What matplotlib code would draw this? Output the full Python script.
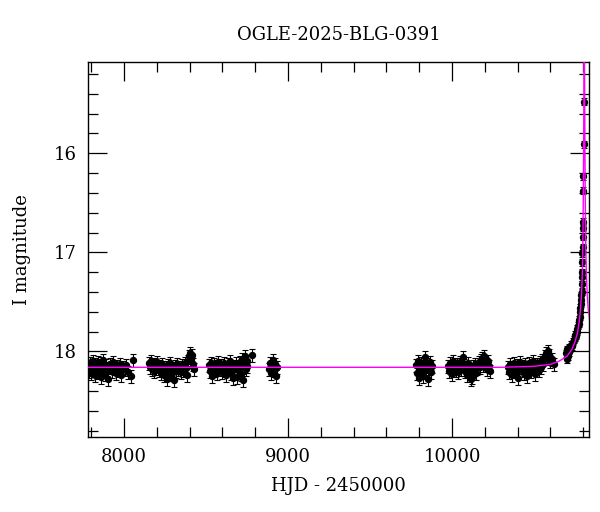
import matplotlib
matplotlib.use("Agg")
import matplotlib.pyplot as plt
from matplotlib.ticker import MultipleLocator

plt.rcParams['font.family'] = ['DejaVu Serif']

# observing seasons: HJD-2450000, I mag, error
t1 = [7781, 7785, 7790, 7794, 7799, 7803, 7808, 7812, 7817, 7822, 7826, 7831, 7836, 7841,
      7846, 7851, 7857, 7862, 7868, 7874, 7880, 7886, 7892, 7899, 7905, 7912, 7919, 7926,
      7933, 7941, 7949, 7957, 7966, 7975, 7984, 7994, 8004, 8015, 8027, 8040, 8052]
m1 = [18.15, 18.20, 18.12, 18.18, 18.22, 18.14, 18.17, 18.10, 18.19, 18.24, 18.13, 18.16,
      18.21, 18.11, 18.18, 18.15, 18.26, 18.12, 18.19, 18.09, 18.17, 18.23, 18.14, 18.18,
      18.28, 18.13, 18.16, 18.20, 18.11, 18.17, 18.22, 18.15, 18.19, 18.13, 18.24, 18.16,
      18.18, 18.14, 18.21, 18.25, 18.09]

t2 = [8152, 8158, 8164, 8170, 8176, 8183, 8190, 8197, 8204, 8211, 8218, 8225, 8232, 8239,
      8246, 8253, 8260, 8267, 8274, 8281, 8288, 8295, 8302, 8309, 8316, 8323, 8330, 8338,
      8346, 8354, 8362, 8370, 8378, 8386, 8393, 8399, 8404, 8409, 8414, 8419, 8424]
m2 = [18.12, 18.16, 18.10, 18.18, 18.14, 18.20, 18.13, 18.17, 18.11, 18.19, 18.15, 18.22,
      18.13, 18.18, 18.24, 18.16, 18.28, 18.14, 18.19, 18.12, 18.23, 18.17, 18.29, 18.15,
      18.20, 18.13, 18.18, 18.16, 18.21, 18.14, 18.19, 18.12, 18.17, 18.24, 18.10, 18.05,
      18.02, 18.08, 18.04, 18.13, 18.18]

t3 = [8516, 8522, 8528, 8534, 8540, 8547, 8554, 8561, 8568, 8575, 8582, 8589, 8596, 8603,
      8610, 8617, 8624, 8631, 8638, 8645, 8652, 8659, 8666, 8673, 8680, 8687, 8694, 8701,
      8707, 8713, 8719, 8725, 8731, 8737, 8742, 8747, 8752, 8782]
m3 = [18.14, 18.20, 18.12, 18.25, 18.17, 18.13, 18.19, 18.15, 18.22, 18.11, 18.18, 18.14,
      18.21, 18.16, 18.12, 18.19, 18.24, 18.13, 18.17, 18.10, 18.22, 18.15, 18.27, 18.18,
      18.12, 18.26, 18.16, 18.20, 18.11, 18.23, 18.08, 18.29, 18.14, 18.05, 18.18, 18.10,
      18.15, 18.04]

t4 = [8882, 8888, 8894, 8900, 8906, 8912, 8918, 8924, 8930]
m4 = [18.18, 18.12, 18.22, 18.15, 18.09, 18.19, 18.13, 18.25, 18.16]

t5 = [9779, 9785, 9791, 9797, 9803, 9809, 9815, 9821, 9827, 9833, 9839, 9845, 9851, 9857,
      9863, 9869, 9876]
m5 = [18.14, 18.22, 18.10, 18.27, 18.16, 18.12, 18.20, 18.25, 18.15, 18.06, 18.19, 18.13,
      18.28, 18.17, 18.11, 18.21, 18.15]

t6 = [9973, 9980, 9987, 9994, 10001, 10008, 10015, 10022, 10029, 10036, 10043, 10050,
      10057, 10064, 10071, 10078, 10085, 10092, 10099, 10106, 10113, 10120, 10127, 10134,
      10141, 10148, 10155, 10162, 10169, 10176, 10183, 10190, 10197, 10204, 10211, 10218,
      10225, 10233]
m6 = [18.15, 18.20, 18.12, 18.17, 18.23, 18.10, 18.16, 18.19, 18.13, 18.21, 18.15, 18.11,
      18.18, 18.06, 18.14, 18.20, 18.16, 18.24, 18.12, 18.19, 18.28, 18.26, 18.15, 18.18,
      18.13, 18.22, 18.17, 18.11, 18.16, 18.09, 18.07, 18.14, 18.05, 18.12, 18.18, 18.10,
      18.15, 18.20]

t7 = [10340, 10347, 10354, 10361, 10368, 10375, 10382, 10389, 10396, 10403, 10410, 10417,
      10424, 10431, 10438, 10445, 10452, 10459, 10466, 10473, 10480, 10487, 10494, 10501,
      10508, 10515, 10522, 10529, 10536, 10543, 10550, 10557, 10564, 10571, 10578, 10585,
      10592, 10600, 10610, 10620]
m7 = [18.16, 18.21, 18.13, 18.18, 18.24, 18.12, 18.17, 18.20, 18.14, 18.27, 18.16, 18.11,
      18.19, 18.15, 18.22, 18.13, 18.18, 18.25, 18.12, 18.16, 18.20, 18.14, 18.10, 18.17,
      18.23, 18.13, 18.15, 18.19, 18.11, 18.16, 18.09, 18.13, 18.05, 18.02, 18.07, 18.00,
      18.04, 18.10, 18.08, 18.13]

t8 = [10694, 10698, 10702, 10706, 10710, 10714, 10720, 10726, 10732, 10738, 10743, 10748,
      10752, 10756, 10760, 10764, 10768, 10771, 10774, 10777, 10780, 10782, 10784, 10786,
      10788, 10790, 10791, 10792, 10793, 10794, 10795, 10796, 10797, 10798, 10799, 10800,
      10801, 10802, 10803]
m8 = [18.02, 18.08, 17.98, 18.05, 17.96, 18.01, 17.97, 17.93, 17.95, 17.90, 17.88, 17.86,
      17.83, 17.84, 17.80, 17.77, 17.74, 17.72, 17.68, 17.65, 17.60, 17.56, 17.52, 17.48,
      17.43, 17.40, 17.32, 17.25, 17.20, 17.10, 17.01, 16.95, 16.84, 16.75, 16.69, 16.38,
      16.23, 15.91, 15.48]

seasons = [(t1, m1), (t2, m2), (t3, m3), (t4, m4), (t5, m5), (t6, m6), (t7, m7), (t8, m8)]
errs = [0.065, 0.065, 0.065, 0.065, 0.065, 0.065, 0.065, 0.035]

# model curve
model_t = [7700, 10300, 10500, 10600, 10650, 10700, 10730, 10750, 10765, 10775, 10783,
           10789, 10794, 10797, 10800, 10802, 10804, 10806, 10808, 10810, 10812, 10815,
           10819, 10824, 10830, 10840]
model_m = [18.16, 18.16, 18.15, 18.13, 18.10, 18.05, 17.98, 17.90, 17.81, 17.70, 17.57,
           17.43, 17.22, 16.95, 16.45, 15.95, 15.30, 14.90, 15.30, 15.95, 16.45, 16.95,
           17.22, 17.43, 17.57, 17.70]

fig = plt.figure(figsize=(6, 5.12), dpi=100)
ax = fig.add_axes([0.146, 0.146, 0.836, 0.732])

for (t, m), e in zip(seasons, errs):
    ax.errorbar(t, m, yerr=e, fmt='o', color='black', ms=4.3, elinewidth=0.8,
                capsize=2.5, capthick=0.8, zorder=2)

ax.plot(model_t, model_m, color='#ff00ff', lw=1.0, zorder=3)

ax.set_xlim(7778, 10836)
ax.set_ylim(18.866, 15.083)

ax.xaxis.set_major_locator(MultipleLocator(1000))
ax.xaxis.set_minor_locator(MultipleLocator(200))
ax.yaxis.set_major_locator(MultipleLocator(1))
ax.yaxis.set_minor_locator(MultipleLocator(0.2))
ax.tick_params(which='both', direction='in', top=True, right=True, labelsize=13, width=0.9)
ax.tick_params(which='major', length=14, pad=8)
ax.tick_params(which='minor', length=7)
for s in ax.spines.values():
    s.set_linewidth(1.0)

ax.set_xlabel('HJD - 2450000', fontsize=13, labelpad=8)
ax.set_ylabel('I magnitude', fontsize=13, labelpad=16)
ax.set_title('OGLE-2025-BLG-0391', fontsize=13, pad=16)

plt.savefig('out.png', dpi=100)
